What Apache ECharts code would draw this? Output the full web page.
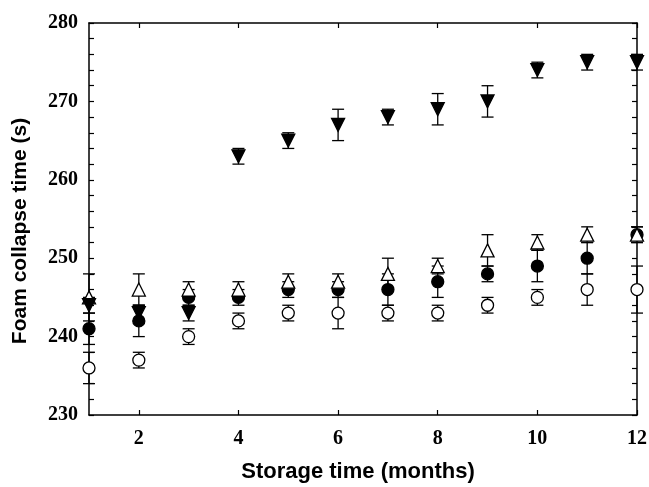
<!DOCTYPE html>
<html>
<head>
<meta charset="utf-8">
<script src="https://cdn.jsdelivr.net/npm/echarts@6/dist/echarts.min.js"></script>
<style>
  html, body { margin: 0; padding: 0; background: #fff; }
  #chart { width: 649px; height: 487px; }
</style>
</head>
<body>
<div id="chart"></div>
<script>
// storage time (months)
const months = [1, 2, 3, 4, 5, 6, 7, 8, 9, 10, 11, 12];

// foam collapse time (s) and error bar half-widths
const openCircle = [236, 237, 240, 242, 243, 243, 243, 243, 244, 245, 246, 246];
const openCircleErr = [2, 1, 1, 1, 1, 2, 1, 1, 1, 1, 2, 3];
const filledCircle = [241, 242, 245, 245, 246, 246, 246, 247, 248, 249, 250, 253];
const filledCircleErr = [2, 2, 1, 1, 1, 1, 2, 2, 1, 2, 2, 1];
const openTriangle = [245, 246, 246, 246, 247, 247, 248, 249, 251, 252, 253, 253];
const openTriangleErr = [3, 2, 1, 1, 1, 1, 2, 1, 2, 1, 1, 1];
const filledTriangle = [244, 243, 243, 263, 265, 267, 268, 269, 270, 274, 275, 275];
const filledTriangleErr = [1, 1, 1, 1, 1, 2, 1, 2, 2, 1, 1, 1];

const xTicks = [2, 4, 6, 8, 10, 12];

const chart = echarts.init(document.getElementById('chart'));

const toPoints = vals => vals.map((v, i) => [months[i], v]);
const toErrors = (vals, errs) => vals.map((v, i) => [months[i], v - errs[i], v + errs[i]]);

const renderErrorBar = (params, api) => {
  const x = api.value(0);
  const lo = api.coord([x, api.value(1)]);
  const hi = api.coord([x, api.value(2)]);
  const w = 6;
  const style = { stroke: '#000', lineWidth: 1.3 };
  return {
    type: 'group',
    children: [
      { type: 'line', shape: { x1: lo[0], y1: lo[1], x2: hi[0], y2: hi[1] }, style },
      { type: 'line', shape: { x1: lo[0] - w, y1: lo[1], x2: lo[0] + w, y2: lo[1] }, style },
      { type: 'line', shape: { x1: hi[0] - w, y1: hi[1], x2: hi[0] + w, y2: hi[1] }, style }
    ]
  };
};

const errorSeries = (vals, errs) => ({
  type: 'custom',
  renderItem: renderErrorBar,
  data: toErrors(vals, errs),
  clip: false,
  z: 1,
  silent: true
});

const markerSeries = (vals, symbol, filled, size, rotate) => ({
  type: 'scatter',
  data: toPoints(vals),
  symbol: symbol,
  symbolSize: size,
  symbolRotate: rotate || 0,
  clip: false,
  z: 3,
  itemStyle: {
    color: filled ? '#000' : '#fff',
    borderColor: '#000',
    borderWidth: 1.3,
    opacity: 1
  }
});

const labelFont = {
  fontFamily: 'Liberation Serif',
  fontWeight: 'bold',
  fontSize: 20,
  color: '#000'
};
const nameFont = {
  fontFamily: 'Liberation Sans',
  fontWeight: 'bold',
  fontSize: 21,
  color: '#000'
};
const lineStyle = { color: '#000', width: 1.5 };

const option = {
  backgroundColor: '#fff',
  animation: false,
  grid: { left: 89, right: 12, top: 23, bottom: 72, outerBoundsMode: 'none' },
  xAxis: [{
    type: 'value',
    min: 1,
    max: 12,
    name: 'Storage time (months)',
    nameLocation: 'middle',
    nameGap: 46,
    nameTextStyle: Object.assign({ padding: [0, 10, 0, 0] }, nameFont, { fontSize: 22 }),
    axisLine: { lineStyle },
    axisTick: { inside: true, length: 5, customValues: xTicks, lineStyle: { color: '#000', width: 1.2 } },
    axisLabel: Object.assign({ margin: 14, customValues: xTicks }, labelFont),
    splitLine: { show: false }
  }, {
    type: 'value',
    position: 'top',
    min: 1,
    max: 12,
    axisLine: { lineStyle },
    axisTick: { inside: true, length: 5, customValues: xTicks, lineStyle: { color: '#000', width: 1.2 } },
    axisLabel: { show: false },
    splitLine: { show: false }
  }],
  yAxis: [{
    type: 'value',
    min: 230,
    max: 280,
    interval: 10,
    name: 'Foam collapse time (s)',
    nameLocation: 'middle',
    nameGap: 58,
    nameTextStyle: Object.assign({ padding: [0, 24, 0, 0] }, nameFont),
    axisLine: { show: true, lineStyle },
    axisTick: { inside: true, length: 5, lineStyle: { color: '#000', width: 1.2 } },
    minorTick: { show: true, splitNumber: 5, length: 5, lineStyle: { color: '#000', width: 1.2 } },
    axisLabel: Object.assign({ margin: 11 }, labelFont),
    splitLine: { show: false },
    minorSplitLine: { show: false }
  }, {
    type: 'value',
    position: 'right',
    min: 230,
    max: 280,
    interval: 10,
    axisLine: { show: true, lineStyle },
    axisTick: { inside: true, length: 5, lineStyle: { color: '#000', width: 1.2 } },
    minorTick: { show: true, splitNumber: 5, length: 5, lineStyle: { color: '#000', width: 1.2 } },
    axisLabel: { show: false },
    splitLine: { show: false }
  }],
  series: [
    errorSeries(openCircle, openCircleErr),
    errorSeries(filledCircle, filledCircleErr),
    errorSeries(openTriangle, openTriangleErr),
    errorSeries(filledTriangle, filledTriangleErr),
    markerSeries(openCircle, 'circle', false, 12),
    markerSeries(filledCircle, 'circle', true, 12),
    markerSeries(openTriangle, 'triangle', false, 13),
    markerSeries(filledTriangle, 'triangle', true, 13, 180)
  ]
};

chart.setOption(option);

window.addEventListener('resize', () => {
  chart.resize();
});
</script>
</body>
</html>
